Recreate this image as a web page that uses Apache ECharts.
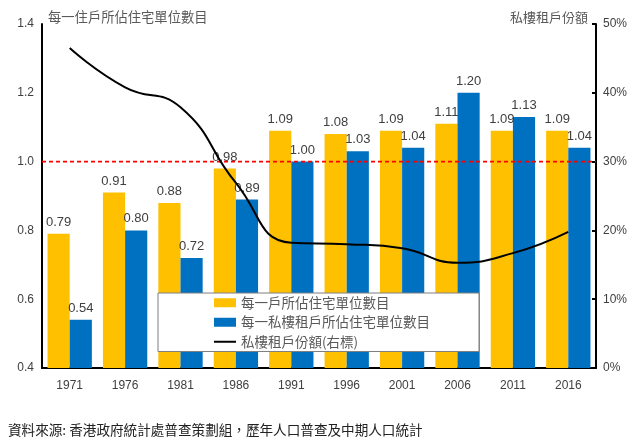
<!DOCTYPE html>
<html><head><meta charset="utf-8">
<script src="https://cdn.jsdelivr.net/npm/echarts@6/dist/echarts.min.js"></script>
<style>html,body{margin:0;padding:0;background:#fff}#c{width:640px;height:444px}</style>
</head><body><div id="c"></div>
<script>
var years = ['1971','1976','1981','1986','1991','1996','2001','2006','2011','2016'];
var unitsPerHousehold = [0.79,0.91,0.88,0.98,1.09,1.08,1.09,1.11,1.09,1.09];
var unitsPerPrivateTenant = [0.54,0.80,0.72,0.89,1.00,1.03,1.04,1.20,1.13,1.04];
var privateTenantShare = [46.5,40.8,37.9,26.9,18.2,18.0,17.4,15.3,16.7,19.8];
var leftTicks = [0.4,1.4,0.2];
var rightTicks = [0,50,10];
var referenceLevel = 1.0;
var names = ['每一戶所佔住宅單位數目','每一私樓租戶所佔住宅單位數目','私樓租戶份額(右標)'];

var cjk = '"Noto Sans CJK TC", "Noto Sans CJK SC", sans-serif';
var num = '"Liberation Sans", "Noto Sans", sans-serif';
var chart = echarts.init(document.getElementById('c'), null, {renderer:'canvas'});
var labelStyle = {show:true, position:'top', distance:5, fontFamily:num, fontSize:13, color:'#404040',
  formatter:function(p){return p.value.toFixed(2);}};
chart.setOption({
  animation:false,
  backgroundColor:'#fff',
  title:{text:'資料來源: 香港政府統計處普查策劃組，歷年人口普查及中期人口統計', left:3, top:418,
    textStyle:{fontFamily:cjk, fontSize:13.6, fontWeight:'normal', color:'#222'}},
  grid:{left:42, right:44, top:24, bottom:76},
  legend:{orient:'vertical', left:158, top:293,
    data:[{name:names[0], icon:'rect'},{name:names[1], icon:'rect'},{name:names[2], itemStyle:{opacity:0}}],
    padding:[3,49,3,55], itemGap:6, itemWidth:22, itemHeight:9,
    backgroundColor:'#fff', borderColor:'#7f7f7f', borderWidth:1, borderRadius:0,
    textStyle:{fontFamily:cjk, fontSize:13.5, color:'#595959'}},
  xAxis:[
    {type:'category', data:years,
     axisLine:{lineStyle:{color:'#000', width:2}}, axisTick:{show:false},
     axisLabel:{fontFamily:num, fontSize:12, color:'#404040', margin:12}},
    {type:'value', min:0, max:1, show:false}
  ],
  yAxis:[
    {type:'value', min:leftTicks[0], max:leftTicks[1], interval:leftTicks[2], splitLine:{show:false},
     name:'每一住戶所佔住宅單位數目', nameLocation:'end', nameGap:7,
     nameTextStyle:{fontFamily:cjk, fontSize:13.3, color:'#595959', align:'left', verticalAlign:'middle', padding:[0,0,0,6]},
     axisLine:{show:true, lineStyle:{color:'#000', width:2}}, axisTick:{show:false},
     axisLabel:{fontFamily:num, fontSize:12, color:'#404040', margin:8, formatter:function(v){return v.toFixed(1);}}},
    {type:'value', min:rightTicks[0], max:rightTicks[1], interval:rightTicks[2], splitLine:{show:false}, position:'right',
     name:'私樓租戶份額', nameLocation:'end', nameGap:7,
     nameTextStyle:{fontFamily:cjk, fontSize:13, color:'#595959', align:'right', verticalAlign:'middle', padding:[0,8,0,0]},
     axisLine:{show:true, lineStyle:{color:'#000', width:2}}, axisTick:{show:true, inside:true, length:4, lineStyle:{color:'#000', width:2}},
     axisLabel:{fontFamily:num, fontSize:12, color:'#404040', margin:7, formatter:'{value}%'}}
  ],
  series:[
    {name:names[0], type:'bar', data:unitsPerHousehold, barWidth:'40%', barGap:'0%', itemStyle:{color:'#FFC000'},
     label:labelStyle, z:2},
    {name:names[1], type:'bar', data:unitsPerPrivateTenant, barWidth:'40%', barGap:'0%', itemStyle:{color:'#0070C0'},
     label:labelStyle, z:2},
    {name:'ref', type:'line', xAxisIndex:1, yAxisIndex:0, data:[[0,referenceLevel],[1,referenceLevel]],
     symbol:'none', showSymbol:false, silent:true, z:3,
     itemStyle:{color:'#FF0000'}, lineStyle:{color:'#FF0000', type:[4,3], width:1.6}},
    {name:names[2], type:'line', yAxisIndex:1, data:privateTenantShare, smooth:true, symbol:'none', showSymbol:false,
     lineStyle:{color:'#000', width:2}, itemStyle:{color:'#000'}, z:4}
  ]
});
</script></body></html>
